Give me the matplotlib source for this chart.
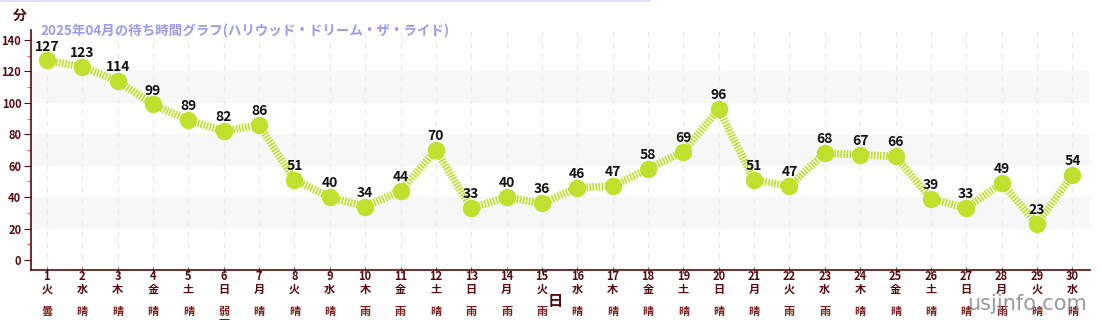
import matplotlib
matplotlib.use("Agg")
import matplotlib.pyplot as plt
import matplotlib.transforms as mtransforms
from matplotlib.lines import Line2D

plt.rcParams['font.family'] = ['Noto Sans CJK JP', 'DejaVu Sans']

days = list(range(1, 31))
weekdays = ["火", "水", "木", "金", "土", "日", "月"] * 4 + ["火", "水"]
weather = ["曇", "晴", "晴", "晴", "晴", "弱\n雨", "晴", "晴", "晴", "雨",
           "雨", "晴", "雨", "雨", "雨", "晴", "晴", "晴", "晴", "晴",
           "晴", "雨", "雨", "晴", "晴", "晴", "晴", "雨", "晴", "晴"]
waits = [127, 123, 114, 99, 89, 82, 86, 51, 40, 34, 44, 70, 33, 40, 36,
         46, 47, 58, 69, 96, 51, 47, 68, 67, 66, 39, 33, 49, 23, 54]
yticks = [0, 20, 40, 60, 80, 100, 120, 140]
title = "2025年04月の待ち時間グラフ(ハリウッド・ドリーム・ザ・ライド)"

dark = "#550a0a"
green = "#bfe02c"

fig = plt.figure(figsize=(11, 3.2), dpi=100)
ax = fig.add_axes([31/1100, 1-270/320, (1090-31)/1100, 240/320])
ax.set_xlim(0.55, 30.5)
ax.set_ylim(-6.4, 146.4)

# alternating bands
for lo in (20, 60, 100):
    ax.axhspan(lo, lo + 20, color="#f7f7f7", zorder=0, lw=0)
# vertical dashed grid
for d in days:
    ax.axvline(d, color="#ebebeb", lw=1, ls=(0, (4, 4)), zorder=0.5)

ax.plot(days, waits, color=green, lw=5.5, dashes=(0.22, 0.18),
        solid_capstyle="butt", dash_capstyle="butt", zorder=2)
ax.plot(days, waits, ls="none", marker="o", ms=11.5, color=green,
        mec=green, zorder=3)
for d, v in zip(days, waits):
    ax.annotate(str(v), (d, v), xytext=(0, 5), textcoords="offset points",
                ha="center", va="bottom", fontsize=10, fontweight="bold",
                color="#111111", zorder=4)

for s in ("top", "right"):
    ax.spines[s].set_visible(False)
ax.spines["left"].set_color(dark)
ax.spines["bottom"].set_color(dark)
ax.spines["left"].set_linewidth(1.2)
ax.spines["bottom"].set_linewidth(1.2)

ax.set_yticks(yticks)
ax.set_yticklabels([str(y) for y in yticks], fontsize=8, fontweight="bold", color=dark)
ax.set_yticks(range(10, 150, 20), minor=True)
ax.tick_params(axis="y", which="major", length=5, color=dark, pad=2)
ax.tick_params(axis="y", which="minor", length=3, color="#ff3333")

ax.set_xticks(days)
ax.set_xticklabels([])
ax.tick_params(axis="x", length=5, direction="inout", color="#666666")

trans = mtransforms.blended_transform_factory(ax.transData, fig.transFigure)
for d, w, wx in zip(days, weekdays, weather):
    ax.text(d, 1 - 277/320, str(d), transform=trans, ha="center", va="center",
            fontsize=8, fontweight="bold", color=dark, clip_on=False)
    ax.text(d, 1 - 289/320, w, transform=trans, ha="center", va="center",
            fontsize=8, fontweight="bold", color=dark, clip_on=False)
    ax.text(d, 1 - 305/320, wx, transform=trans, ha="center", va="top",
            fontsize=8, fontweight="bold", color="#7a1a1a", linespacing=1.0,
            clip_on=False)

fig.text(555/1100, 1 - 301/320, "日", ha="center", va="center",
         fontsize=11, fontweight="bold", color=dark)
fig.text(20/1100, 1 - 16/320, "分", ha="center", va="center",
         fontsize=10, fontweight="bold", color=dark)
fig.text(40/1100, 1 - 31/320, title, ha="left", va="center",
         fontsize=9.7, fontweight="bold", color="#9a9aee")
fig.text(1087/1100, 1 - 304/320, "usjinfo.com", ha="right", va="center",
         fontsize=15, color="#808080", alpha=0.8, family=["DejaVu Sans"],
         zorder=10)
fig.add_artist(Line2D([0, 650/1100], [1 - 1/320, 1 - 1/320],
                      transform=fig.transFigure, color="#e0e0f8", lw=1.5))

fig.savefig("out.png", dpi=100)
